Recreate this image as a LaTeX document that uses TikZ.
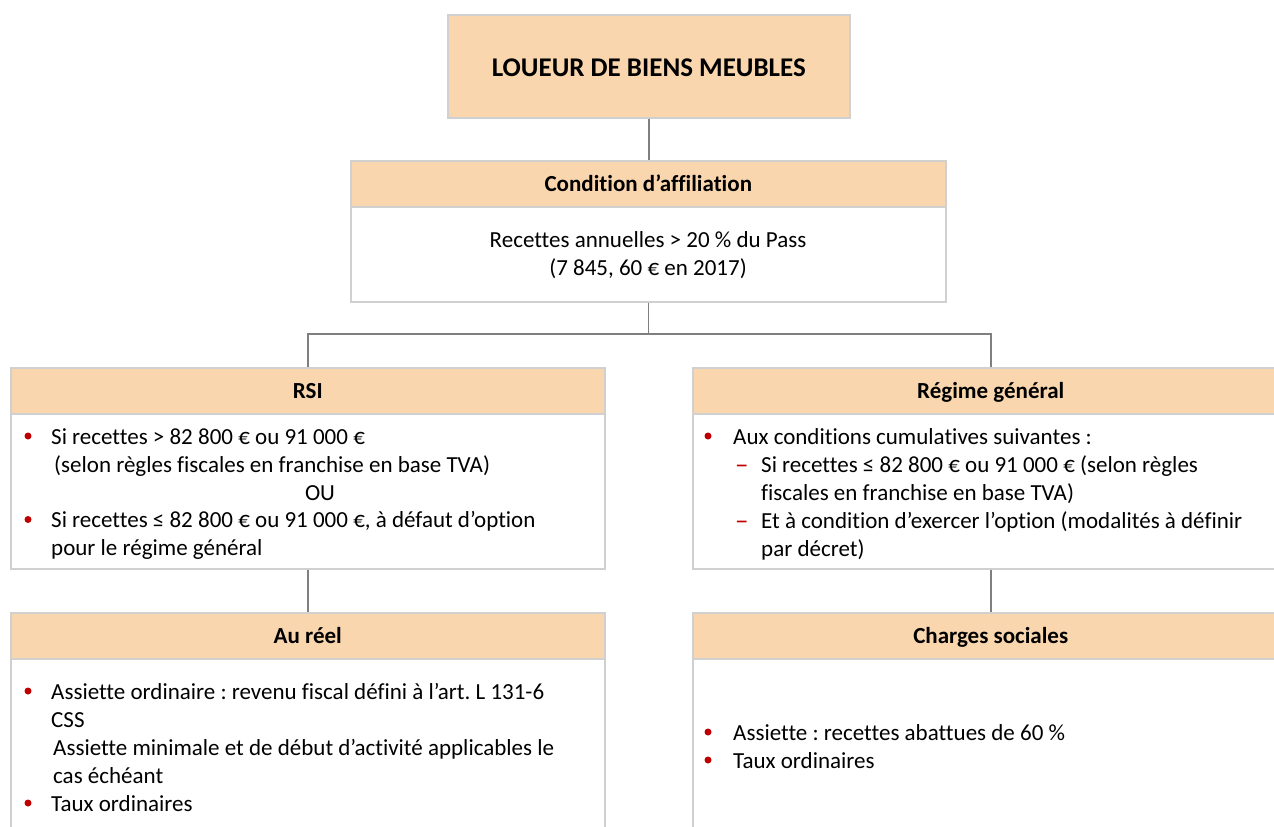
\documentclass[tikz,border=0pt]{standalone}
\usepackage{fontspec}
\setmainfont{Carlito}[Ligatures=NoCommon]
\frenchspacing
\definecolor{peach}{HTML}{FAD6AE}
\definecolor{boxgray}{HTML}{D0D0D0}
\definecolor{conngray}{HTML}{7F7F7F}
\definecolor{bulred}{HTML}{C00000}
\begin{document}
\begin{tikzpicture}[x=1pt,y=-1pt,
 box/.style={draw=boxgray, line width=1.5pt, inner sep=0pt, anchor=north west},
 head/.style={box, fill=peach, font=\bfseries\fontsize{23}{28}\selectfont, text height=19.8pt, text depth=5pt},
 body/.style={box, fill=white},
 txt/.style={anchor=base west, inner sep=0pt, font=\fontsize{23}{28}\selectfont},
 ctxt/.style={txt, anchor=base},
 conn/.style={draw=conngray, line width=1.5pt},
 bul/.style={fill=bulred},
 dashmark/.style={txt, text=bulred, font=\fontsize{27}{28}\selectfont}
]
\useasboundingbox (0,0) rectangle (1274,827);
\clip (0,0) rectangle (1274,827);

% boxes
\node[box, fill=peach, minimum width=402pt, minimum height=103pt, font=\bfseries\fontsize{27}{32}\selectfont, text height=21pt, text depth=0pt] (top) at (447,14) {LOUEUR DE BIENS MEUBLES};

\node[head, minimum width=595pt, minimum height=46pt] (condH) at (350,160) {Condition d’affiliation};
\node[body, minimum width=595pt, minimum height=95pt] (condB) at (350,206) {};

\node[head, minimum width=594pt, minimum height=46pt] (rsiH) at (10,367) {RSI};
\node[body, minimum width=594pt, minimum height=155pt] (rsiB) at (10,413) {};

\node[head, minimum width=596pt, minimum height=46pt] (rgH) at (692,367) {Régime général};
\node[body, minimum width=596pt, minimum height=155pt] (rgB) at (692,413) {};

\node[head, minimum width=594pt, minimum height=46pt] (reelH) at (10,612) {Au réel};
\node[body, minimum width=594pt, minimum height=200pt] (reelB) at (10,658) {};

\node[head, minimum width=596pt, minimum height=46pt] (csH) at (692,612) {Charges sociales};
\node[body, minimum width=596pt, minimum height=200pt] (csB) at (692,658) {};

% connectors
\coordinate (split) at (condB.south |- 0,334);
\draw[conn] (top.south) -- (top.south |- condH.north);
\draw[conn] (condB.south) -- (split);
\draw[conn] (split) -| (rsiH.north);
\draw[conn] (split) -| (rgH.north);
\draw[conn] (rsiB.south) -- (reelH.north);
\draw[conn] (rgB.south) -- (csH.north);

% condition text
\node[ctxt] (c1) at (648,247) {Recettes annuelles > 20 \% du Pass};
\node[ctxt] (c2) at (648,275) {(7 845, 60 € en 2017)};

% RSI text
\fill[bul] (28,436) circle[radius=3.5pt];
\node[txt] (r1) at (51,444) {Si recettes > 82 800 € ou 91 000 €};
\node[txt] (r2) at (54,472) {(selon règles fiscales en franchise en base TVA)};
\node[ctxt] (r3) at (320,500) {OU};
\fill[bul] (28,519.5) circle[radius=3.5pt];
\node[txt] (r4) at (51,527.5) {Si recettes ≤ 82 800 € ou 91 000 €, à défaut d’option};
\node[txt] (r5) at (51,555) {pour le régime général};

% Regime general text
\fill[bul] (708,436) circle[radius=3.5pt];
\node[txt] (g1) at (733,444) {Aux conditions cumulatives suivantes :};
\node[dashmark] (gd1) at (735,473) {–};
\node[txt] (g2) at (761,472) {Si recettes ≤ 82 800 € ou 91 000 € (selon règles};
\node[txt] (g3) at (761,500) {fiscales en franchise en base TVA)};
\node[dashmark] (gd2) at (735,529) {–};
\node[txt] (g4) at (761,528) {Et à condition d’exercer l’option (modalités à définir};
\node[txt] (g5) at (761,556) {par décret)};

% Au reel text
\fill[bul] (28,691) circle[radius=3.5pt];
\node[txt] (a1) at (51,699) {Assiette ordinaire : revenu fiscal défini à l’art. L 131-6};
\node[txt] (a2) at (51,727) {CSS};
\node[txt] (a3) at (53,755) {Assiette minimale et de début d’activité applicables le};
\node[txt] (a4) at (53,783) {cas échéant};
\fill[bul] (28,803) circle[radius=3.5pt];
\node[txt] (a5) at (51,811) {Taux ordinaires};

% Charges sociales text
\fill[bul] (708,732) circle[radius=3.5pt];
\node[txt] (s1) at (733,740) {Assiette : recettes abattues de 60 \%};
\fill[bul] (708,760) circle[radius=3.5pt];
\node[txt] (s2) at (733,768) {Taux ordinaires};
\end{tikzpicture}
\end{document}
